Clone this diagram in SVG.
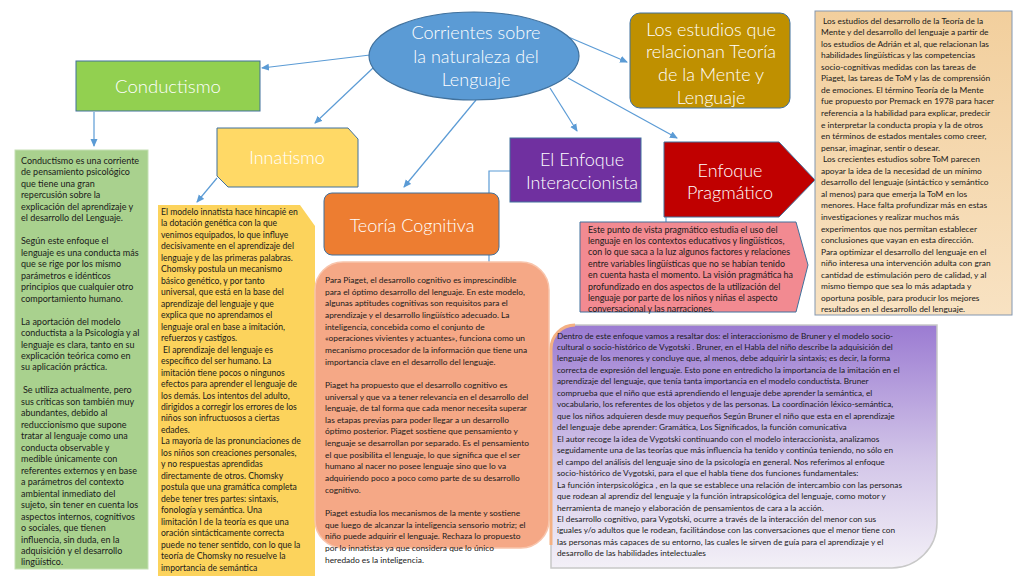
<svg xmlns="http://www.w3.org/2000/svg" width="1024" height="576" viewBox="0 0 1024 576">
<defs>
<marker id="arr" markerWidth="8" markerHeight="8" refX="7" refY="4" orient="auto" markerUnits="userSpaceOnUse">
<path d="M0,0.5 L8,4 L0,7.5 Z" fill="#5b9bd5"/>
</marker>
<linearGradient id="purp" x1="0" y1="0" x2="0" y2="1">
<stop offset="0" stop-color="#9b7bd2"/>
<stop offset="0.55" stop-color="#d2c5e8"/>
<stop offset="1" stop-color="#f3f0f7"/>
</linearGradient>
<linearGradient id="tan" x1="0" y1="0" x2="0" y2="1">
<stop offset="0" stop-color="#f2cf9d"/>
<stop offset="1" stop-color="#f8e2c2"/>
</linearGradient>
</defs>
<style>
.h{font-family:Lato,"Liberation Sans",sans-serif;font-size:18px;font-weight:300;fill:#ffffff;text-anchor:middle}
.t{font-family:Lato,"Liberation Sans",sans-serif;font-size:8.4px;fill:#1a1a1a}
.c{fill:none;stroke:#5b9bd5;stroke-width:1.2}
</style>
<rect width="1024" height="576" fill="#ffffff"/>

<g id="connectors">
<line class="c" x1="370" y1="55" x2="262" y2="68" marker-end="url(#arr)"/>
<line class="c" x1="94" y1="112" x2="94" y2="146" marker-end="url(#arr)"/>
<line class="c" x1="373" y1="68" x2="315" y2="123" marker-end="url(#arr)"/>
<line class="c" x1="217" y1="178" x2="197" y2="202" marker-end="url(#arr)"/>
<line class="c" x1="476" y1="100" x2="404" y2="187" marker-end="url(#arr)"/>
<line class="c" x1="550" y1="88" x2="577" y2="131" marker-end="url(#arr)"/>
<line class="c" x1="566" y1="36" x2="627" y2="62" marker-end="url(#arr)"/>
<line class="c" x1="568" y1="78" x2="677" y2="138" marker-end="url(#arr)"/>
<polyline class="c" points="510,171 489,171 489,300"/>
<line class="c" x1="666" y1="217" x2="666" y2="226"/>
</g>

<g id="n-corrientes">
<ellipse cx="474" cy="56" rx="105" ry="44" fill="#5b9bd5" stroke="#41719c" stroke-width="1.2"/>
<text class="h" x="476" y="39">Corrientes sobre</text>
<text class="h" x="476" y="63">la naturaleza del</text>
<text class="h" x="476" y="86">Lenguaje</text>
</g>

<g id="n-conductismo">
<rect x="76" y="61" width="184" height="50" fill="#92d050" stroke="#41719c" stroke-width="1"/>
<text class="h" x="168" y="93" style="font-size:18.5px">Conductismo</text>
</g>

<g id="n-conductismo-text">
<rect x="15" y="150" width="133" height="419" fill="#a9d18e" stroke="#c5e0b4" stroke-width="1"/>
<text class="t" x="21" y="164" style="font-size:9px">
<tspan x="21" dy="0">Conductismo es una corriente</tspan>
<tspan x="21" dy="11.47">de pensamiento psicológico</tspan>
<tspan x="21" dy="11.47">que tiene una gran</tspan>
<tspan x="21" dy="11.47">repercusión sobre la</tspan>
<tspan x="21" dy="11.47">explicación del aprendizaje y</tspan>
<tspan x="21" dy="11.47">el desarrollo del Lenguaje.</tspan>
<tspan x="21" dy="22.94">Según este enfoque el</tspan>
<tspan x="21" dy="11.47">lenguaje es una conducta más</tspan>
<tspan x="21" dy="11.47">que se rige por los mismo</tspan>
<tspan x="21" dy="11.47">parámetros e idénticos</tspan>
<tspan x="21" dy="11.47">principios que cualquier otro</tspan>
<tspan x="21" dy="11.47">comportamiento humano.</tspan>
<tspan x="21" dy="22.94">La aportación del modelo</tspan>
<tspan x="21" dy="11.47">conductista a la Psicología y al</tspan>
<tspan x="21" dy="11.47">lenguaje es clara, tanto en su</tspan>
<tspan x="21" dy="11.47">explicación teórica como en</tspan>
<tspan x="21" dy="11.47">su aplicación práctica.</tspan>
<tspan x="23" dy="22.94">Se utiliza actualmente, pero</tspan>
<tspan x="21" dy="11.47">sus críticas son también muy</tspan>
<tspan x="21" dy="11.47">abundantes, debido al</tspan>
<tspan x="21" dy="11.47">reduccionismo que supone</tspan>
<tspan x="21" dy="11.47">tratar al lenguaje como una</tspan>
<tspan x="21" dy="11.47">conducta observable y</tspan>
<tspan x="21" dy="11.47">medible únicamente con</tspan>
<tspan x="21" dy="11.47">referentes externos y en base</tspan>
<tspan x="21" dy="11.47">a parámetros del contexto</tspan>
<tspan x="21" dy="11.47">ambiental inmediato del</tspan>
<tspan x="21" dy="11.47">sujeto, sin tener en cuenta los</tspan>
<tspan x="21" dy="11.47">aspectos internos, cognitivos</tspan>
<tspan x="21" dy="11.47">o sociales, que tienen</tspan>
<tspan x="21" dy="11.47">influencia, sin duda, en la</tspan>
<tspan x="21" dy="11.47">adquisición y el desarrollo</tspan>
<tspan x="21" dy="11.47">lingüístico.</tspan>
</text>
</g>

<g id="n-innatismo">
<polygon points="217,128 348,128 358,139 358,187 228,187 217,176" fill="#ffd966" stroke="#41719c" stroke-width="1"/>
<text class="h" x="287" y="164">Innatismo</text>
</g>

<g id="n-innatismo-text">
<polygon points="158,205 300,205 315,226 315,576 158,576" fill="#fcd35c"/>
<text class="t" x="161" y="215" style="font-size:8.6px">
<tspan x="161" dy="0">El modelo innatista hace hincapié en</tspan>
<tspan x="161" dy="11.47">la dotación genética con la que</tspan>
<tspan x="161" dy="11.47">venimos equipados, lo que influye</tspan>
<tspan x="161" dy="11.47">decisivamente en el aprendizaje del</tspan>
<tspan x="161" dy="11.47">lenguaje y de las primeras palabras.</tspan>
<tspan x="161" dy="11.47">Chomsky postula un mecanismo</tspan>
<tspan x="161" dy="11.47">básico genético, y por tanto</tspan>
<tspan x="161" dy="11.47">universal, que está en la base del</tspan>
<tspan x="161" dy="11.47">aprendizaje del lenguaje y que</tspan>
<tspan x="161" dy="11.47">explica que no aprendamos el</tspan>
<tspan x="161" dy="11.47">lenguaje oral en base a imitación,</tspan>
<tspan x="161" dy="11.47">refuerzos y castigos.</tspan>
<tspan x="163" dy="11.47">El aprendizaje del lenguaje es</tspan>
<tspan x="161" dy="11.47">específico del ser humano. La</tspan>
<tspan x="161" dy="11.47">imitación tiene pocos o ningunos</tspan>
<tspan x="161" dy="11.47">efectos para aprender el lenguaje de</tspan>
<tspan x="161" dy="11.47">los demás. Los intentos del adulto,</tspan>
<tspan x="161" dy="11.47">dirigidos a corregir los errores de los</tspan>
<tspan x="161" dy="11.47">niños son infructuosos a ciertas</tspan>
<tspan x="161" dy="11.47">edades.</tspan>
<tspan x="161" dy="11.47">La mayoría de las pronunciaciones de</tspan>
<tspan x="161" dy="11.47">los niños son creaciones personales,</tspan>
<tspan x="161" dy="11.47">y no respuestas aprendidas</tspan>
<tspan x="161" dy="11.47">directamente de otros. Chomsky</tspan>
<tspan x="161" dy="11.47">postula que una gramática completa</tspan>
<tspan x="161" dy="11.47">debe tener tres partes: sintaxis,</tspan>
<tspan x="161" dy="11.47">fonología y semántica. Una</tspan>
<tspan x="161" dy="11.47">limitación l de la teoría es que una</tspan>
<tspan x="161" dy="11.47">oración sintácticamente correcta</tspan>
<tspan x="161" dy="11.47">puede no tener sentido, con lo que la</tspan>
<tspan x="161" dy="11.47">teoría de Chomsky no resuelve la</tspan>
<tspan x="161" dy="11.47">importancia de semántica</tspan>
</text>
</g>

<g id="n-cognitiva">
<rect x="324" y="193" width="175" height="62" rx="8" fill="#ed7d31" stroke="#41719c" stroke-width="1"/>
<text class="h" x="412" y="232">Teoría Cognitiva</text>
</g>

<g id="n-cognitiva-text">
<rect x="315" y="262" width="234" height="286" rx="28" fill="#f5a886" stroke="#f8c4ab" stroke-width="1.5"/>
<text class="t" x="325" y="283">
<tspan x="325" dy="0">Para Piaget, el desarrollo cognitivo es imprescindible</tspan>
<tspan x="325" dy="11.65">para el óptimo desarrollo del lenguaje. En este modelo,</tspan>
<tspan x="325" dy="11.65">algunas aptitudes cognitivas son requisitos para el</tspan>
<tspan x="325" dy="11.65">aprendizaje y el desarrollo lingüístico adecuado. La</tspan>
<tspan x="325" dy="11.65">inteligencia, concebida como el conjunto de</tspan>
<tspan x="325" dy="11.65">«operaciones vivientes y actuantes», funciona como un</tspan>
<tspan x="325" dy="11.65">mecanismo procesador de la información que tiene una</tspan>
<tspan x="325" dy="11.65">importancia clave en el desarrollo del lenguaje.</tspan>
<tspan x="325" dy="23.3">Piaget  ha propuesto que el desarrollo cognitivo es</tspan>
<tspan x="325" dy="11.65">universal y que va a tener relevancia en el desarrollo del</tspan>
<tspan x="325" dy="11.65">lenguaje, de tal forma que cada menor necesita superar</tspan>
<tspan x="325" dy="11.65">las etapas previas para poder llegar a un desarrollo</tspan>
<tspan x="325" dy="11.65">óptimo posterior. Piaget sostiene que pensamiento y</tspan>
<tspan x="325" dy="11.65">lenguaje se desarrollan por separado. Es el pensamiento</tspan>
<tspan x="325" dy="11.65">el que posibilita el lenguaje, lo que significa que el ser</tspan>
<tspan x="325" dy="11.65">humano al nacer no posee lenguaje sino que lo va</tspan>
<tspan x="325" dy="11.65">adquiriendo poco a poco como parte de su desarrollo</tspan>
<tspan x="325" dy="11.65">cognitivo.</tspan>
<tspan x="325" dy="23.3">Piaget estudia los mecanismos de la mente y sostiene</tspan>
<tspan x="325" dy="11.65">que luego de alcanzar la inteligencia sensorio motriz; el</tspan>
<tspan x="325" dy="11.65">niño puede adquirir el lenguaje. Rechaza lo propuesto</tspan>
<tspan x="325" dy="11.65">por lo innatistas ya que considera que lo único</tspan>
<tspan x="325" dy="11.65">heredado es la inteligencia.</tspan>
</text>
</g>

<g id="n-interaccionista">
<rect x="510" y="138" width="131" height="64" fill="#7030a0" stroke="#41719c" stroke-width="1"/>
<text class="h" x="582" y="166">El Enfoque</text>
<text class="h" x="582" y="189">Interaccionista</text>
</g>

<g id="n-interaccionista-text">
<path d="M575,325 H937 V523 A45,45 0 0 1 892,568 H551 V349 A24,24 0 0 1 575,325 Z" fill="url(#purp)" stroke="#c8c8c8" stroke-width="1.5"/>
<path d="M551,545 V349 A24,24 0 0 1 575,325" fill="none" stroke="#f4b183" stroke-width="3"/>
<text class="t" x="557" y="338.5" style="font-size:8.25px">
<tspan x="557" dy="0">Dentro de este enfoque vamos a resaltar dos: el interaccionismo de Bruner y el modelo socio-</tspan>
<tspan x="557" dy="11.47">cultural o socio-histórico de Vygotski . Bruner, en el Habla del niño describe la adquisición del</tspan>
<tspan x="557" dy="11.47">lenguaje de los menores y concluye que, al menos, debe adquirir la sintaxis; es decir, la forma</tspan>
<tspan x="557" dy="11.47">correcta de expresión del lenguaje. Esto pone en entredicho la importancia de la imitación en el</tspan>
<tspan x="557" dy="11.47">aprendizaje del lenguaje, que tenía tanta importancia en el modelo conductista. Bruner</tspan>
<tspan x="557" dy="11.47">comprueba que el niño que está aprendiendo el lenguaje debe aprender la semántica, el</tspan>
<tspan x="557" dy="11.47">vocabulario, los referentes de los objetos y de las personas.  La coordinación léxico-semántica,</tspan>
<tspan x="557" dy="11.47">que los niños adquieren desde muy pequeños Según Bruner el niño que esta en el aprendizaje</tspan>
<tspan x="557" dy="11.47">del lenguaje debe aprender: Gramática, Los Significados, la función comunicativa</tspan>
<tspan x="557" dy="11.47">El autor recoge la idea de Vygotski continuando con el modelo interaccionista, analizamos</tspan>
<tspan x="557" dy="11.47">seguidamente una de las teorías que más influencia ha tenido y continúa  teniendo, no sólo en</tspan>
<tspan x="557" dy="11.47">el campo del análisis del lenguaje sino de la psicología en general. Nos referimos al enfoque</tspan>
<tspan x="557" dy="11.47">socio-histórico de Vygotski, para el que el habla tiene dos funciones fundamentales:</tspan>
<tspan x="557" dy="11.47">La función interpsicológica , en la que se establece una relación de intercambio con las personas</tspan>
<tspan x="557" dy="11.47">que rodean al aprendiz del lenguaje y  la función intrapsicológica  del lenguaje, como motor y</tspan>
<tspan x="557" dy="11.47">herramienta de manejo y elaboración de pensamientos de cara a la acción.</tspan>
<tspan x="557" dy="11.47">El desarrollo cognitivo, para Vygotski, ocurre a través de la interacción del menor con sus</tspan>
<tspan x="557" dy="11.47">iguales y/o adultos que le rodean, facilitándose con las conversaciones que el menor tiene con</tspan>
<tspan x="557" dy="11.47">las personas más capaces de su entorno, las cuales le sirven de guía para el aprendizaje y el</tspan>
<tspan x="557" dy="11.47">desarrollo de las habilidades intelectuales</tspan>
</text>
</g>

<g id="n-pragmatico">
<polygon points="664,142 779,142 815,180 779,217 664,217" fill="#c00000" stroke="#41719c" stroke-width="1"/>
<text class="h" x="730" y="177">Enfoque</text>
<text class="h" x="730" y="199">Pragmático</text>
</g>

<g id="n-pragmatico-text">
<polygon points="580,222 796,222 808,265 796,312 580,312" fill="#f28a91" stroke="#41719c" stroke-width="1"/>
<text class="t" x="588" y="232.5" style="font-size:8.9px">
<tspan x="588" dy="0">Este punto de vista pragmático estudia el uso del</tspan>
<tspan x="588" dy="11.4">lenguaje en los contextos educativos y lingüísticos,</tspan>
<tspan x="588" dy="11.4">con lo que saca a la luz algunos factores y relaciones</tspan>
<tspan x="588" dy="11.4">entre variables lingüísticas que no se habían tenido</tspan>
<tspan x="588" dy="11.4">en cuenta hasta el momento. La visión pragmática ha</tspan>
<tspan x="588" dy="11.4">profundizado en dos aspectos de la utilización del</tspan>
<tspan x="588" dy="11.4">lenguaje por parte de los niños y niñas el aspecto</tspan>
<tspan x="588" dy="11.4">conversacional y las narraciones.</tspan>
</text>
</g>

<g id="n-tom">
<rect x="630" y="13" width="160" height="95" rx="10" fill="#bf9000" stroke="#41719c" stroke-width="1"/>
<text class="h" x="711" y="36">Los estudios que</text>
<text class="h" x="711" y="58">relacionan Teoría</text>
<text class="h" x="711" y="81">de la Mente y</text>
<text class="h" x="711" y="104">Lenguaje</text>
</g>

<g id="n-tom-text">
<rect x="815" y="11" width="197" height="304" fill="url(#tan)" stroke="#8497b0" stroke-width="1"/>
<text class="t" x="821" y="23.5">
<tspan x="823" dy="0">Los estudios del desarrollo de la Teoría de la</tspan>
<tspan x="821" dy="11.56">Mente  y del desarrollo del lenguaje a partir de</tspan>
<tspan x="821" dy="11.56">los estudios de Adrián et al, que relacionan las</tspan>
<tspan x="821" dy="11.56">habilidades lingüísticas y las competencias</tspan>
<tspan x="821" dy="11.56">socio-cognitivas medidas con las tareas de</tspan>
<tspan x="821" dy="11.56">Piaget, las tareas de ToM y las de comprensión</tspan>
<tspan x="821" dy="11.56">de emociones. El término Teoría de la Mente</tspan>
<tspan x="821" dy="11.56">fue propuesto por Premack en 1978 para hacer</tspan>
<tspan x="821" dy="11.56">referencia a la habilidad para explicar, predecir</tspan>
<tspan x="821" dy="11.56">e interpretar la conducta propia y la de otros</tspan>
<tspan x="821" dy="11.56">en términos de estados mentales como creer,</tspan>
<tspan x="821" dy="11.56">pensar, imaginar, sentir o desear.</tspan>
<tspan x="823" dy="11.56">Los crecientes estudios sobre ToM parecen</tspan>
<tspan x="821" dy="11.56">apoyar la idea de la necesidad de un mínimo</tspan>
<tspan x="821" dy="11.56">desarrollo del lenguaje (sintáctico y semántico</tspan>
<tspan x="821" dy="11.56">al menos) para que emerja la ToM en los</tspan>
<tspan x="821" dy="11.56">menores. Hace falta profundizar más en estas</tspan>
<tspan x="821" dy="11.56">investigaciones y realizar muchos más</tspan>
<tspan x="821" dy="11.56">experimentos que nos permitan establecer</tspan>
<tspan x="821" dy="11.56">conclusiones que vayan en esta dirección.</tspan>
<tspan x="821" dy="11.56">Para optimizar el desarrollo del lenguaje en el</tspan>
<tspan x="821" dy="11.56">niño interesa una intervención adulta con gran</tspan>
<tspan x="821" dy="11.56">cantidad de estimulación pero de calidad, y al</tspan>
<tspan x="821" dy="11.56">mismo tiempo que sea lo más adaptada y</tspan>
<tspan x="821" dy="11.56">oportuna posible, para producir los mejores</tspan>
<tspan x="821" dy="11.56">resultados en el desarrollo del lenguaje.</tspan>
</text>
</g>
</svg>
